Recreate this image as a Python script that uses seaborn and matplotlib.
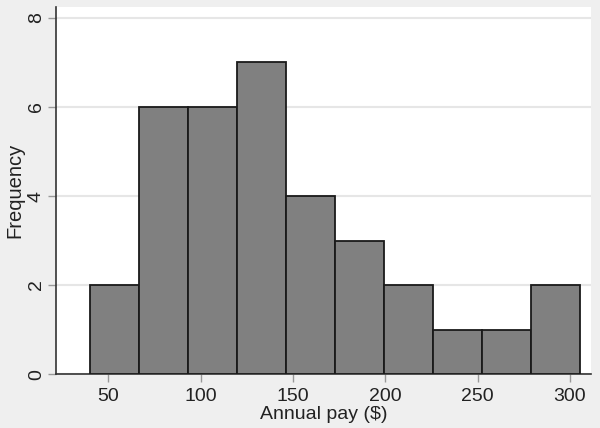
import numpy as np
import pandas as pd
import matplotlib.pyplot as plt
import seaborn as sns

# Histogram: bin midpoints of annual pay and counts
pay_mid = [53.3, 79.9, 106.4, 133.0, 159.5, 186.1, 212.6, 239.2, 265.7, 292.3]
frequency = [2, 6, 6, 7, 4, 3, 2, 1, 1, 2]
x_ticks = [50, 100, 150, 200, 250, 300]
y_ticks = [0, 2, 4, 6, 8]

df = pd.DataFrame({"pay": pay_mid, "n": frequency})

sns.set_theme(style="white")
plt.rcParams["font.family"] = ["Liberation Sans", "DejaVu Sans"]

fig = plt.figure(figsize=(6.0, 4.28), dpi=100, facecolor="#efefef")
ax = fig.add_axes([0.0933, 0.126, 0.892, 0.858])
ax.set_facecolor("white")

sns.histplot(data=df, x="pay", weights="n", bins=10, binrange=(40, 305.5),
             color="#808080", edgecolor="#1a1a1a", linewidth=1.3, alpha=1,
             ax=ax, zorder=3)

ax.set_xlim(21.7, 311.5)
ax.set_ylim(0, 8.25)
ax.set_xticks(x_ticks)
ax.set_yticks(y_ticks)
ax.yaxis.grid(True, color="#e6e6e6", linewidth=1.5, zorder=0)
ax.xaxis.grid(False)

for side in ["top", "right"]:
    ax.spines[side].set_visible(False)
for side in ["left", "bottom"]:
    ax.spines[side].set_color("#333333")
    ax.spines[side].set_linewidth(1.2)

ax.tick_params(axis="both", which="major", length=6, width=1,
               color="#999999", labelsize=14, labelcolor="#222222",
               bottom=True, left=True)
ax.tick_params(axis="x", pad=4)
ax.tick_params(axis="y", pad=2)
plt.setp(ax.get_yticklabels(), rotation=90, va="center")

ax.set_xlabel("Annual pay ($)", fontsize=14, color="#222222", labelpad=1)
ax.set_ylabel("Frequency", fontsize=14.5, color="#222222")
ax.yaxis.label.set_va("center")
ax.yaxis.set_label_coords(-0.077, 0.5)

fig.savefig("out.png", dpi=100, facecolor=fig.get_facecolor())
